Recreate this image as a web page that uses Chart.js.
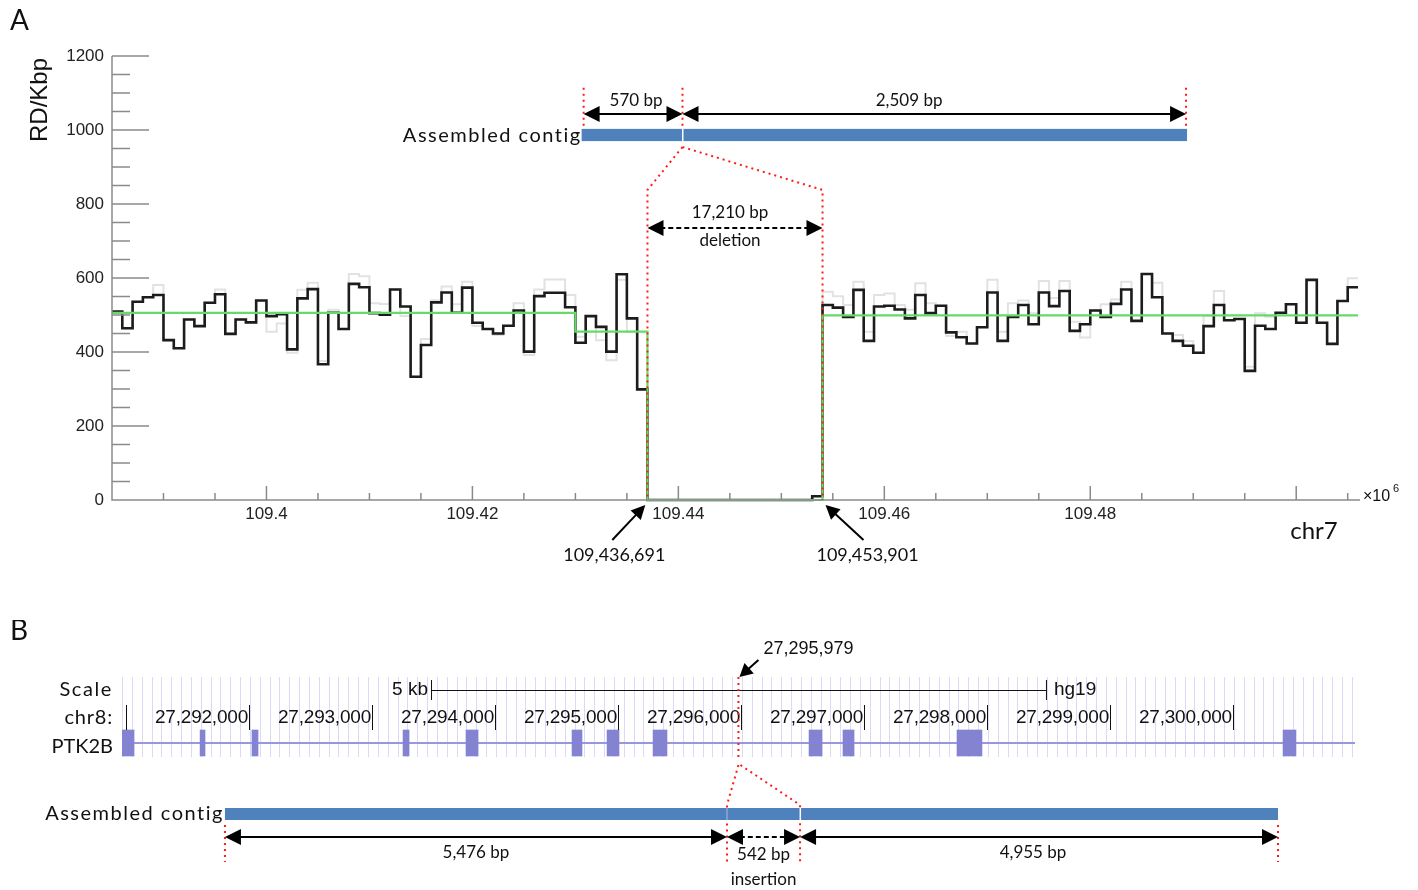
<!DOCTYPE html>
<html>
<head>
<meta charset="utf-8">
<title>Deletion and insertion read-depth figure</title>
<script src="https://cdn.jsdelivr.net/npm/chart.js@4.4.1/dist/chart.umd.min.js"></script>
<style>
  html, body { margin: 0; padding: 0; background: #fff; }
  body { width: 1418px; height: 890px; position: relative; overflow: hidden; }
  #chartA { position: absolute; left: 0; top: 0; }
  #chartB { position: absolute; left: 0; top: 620px; }
</style>
</head>
<body>
<canvas id="chartA" width="1418" height="620"></canvas>
<canvas id="chartB" width="1418" height="270"></canvas>
<script>
/* ---------- Panel A data: read depth in 1 kbp bins, chr7 ---------- */
const binStartMb = 109.385;
const binWidthMb = 0.001;
const rdBlack = [
  509, 464, 536, 548, 554, 432, 410, 488, 470, 533, 556, 449, 488, 480, 539, 497, 502, 407, 545, 570, 367, 506, 462, 584, 575, 505,
  501, 569, 523, 333, 419, 534, 561, 506, 574, 479, 462, 450, 471, 512, 401, 551, 560, 560, 521, 425, 497, 468, 401, 610, 491, 299,
  0, 0, 0, 0, 0, 0, 0, 0, 0, 0, 0, 0, 0, 0, 0, 0, 10,
  527, 520, 495, 568, 430, 523, 525, 515, 491, 554, 505, 525, 453, 440, 423, 467, 561, 430, 495, 527, 475, 561, 524, 565, 457,
  475, 512, 495, 530, 569, 484, 611, 548, 450, 430, 417, 398, 470, 527, 486, 489, 349, 471, 462, 506, 529, 479, 595, 479, 422, 538, 575
];
const rdGrey = [
  509, 464, 536, 548, 581, 432, 410, 488, 470, 533, 569, 449, 488, 480, 539, 455, 477, 398, 568, 587, 376, 514, 462, 611, 605, 532,
  530, 569, 497, 333, 435, 540, 577, 529, 590, 470, 462, 446, 471, 532, 392, 569, 596, 596, 554, 441, 497, 432, 378, 595, 455, 299,
  0, 0, 0, 0, 0, 0, 0, 0, 0, 0, 0, 0, 0, 0, 0, 0, 10,
  563, 551, 527, 590, 455, 554, 558, 527, 514, 586, 532, 525, 443, 455, 423, 467, 595, 455, 532, 539, 505, 592, 546, 592, 482,
  439, 512, 529, 542, 590, 484, 611, 587, 450, 446, 430, 398, 497, 565, 486, 489, 360, 505, 495, 506, 529, 479, 595, 479, 422, 538, 599
];
const segBreaksMb = [109.385, 109.430, 109.437, 109.454, 109.506];
const segLevels = [506, 455, 0, 499];
const xTickValues = [109.40, 109.42, 109.44, 109.46, 109.48];
const xTickLabels = ['109.4', '109.42', '109.44', '109.46', '109.48'];
const yTickValues = [0, 200, 400, 600, 800, 1000, 1200];
const breakpointsMb = [109.436691, 109.453901];
const breakpointLabels = ['109,436,691', '109,453,901'];
const contigAnchorsA = [109.4308, 109.4404, 109.4893];
const contigLabelsA = ['570 bp', '2,509 bp'];

/* ---------- Panel B data: UCSC view of chr8 around PTK2B ---------- */
const viewStart = 27290967;
const viewEnd = 27300992;
const rulerTicks = [27291000, 27292000, 27293000, 27294000, 27295000, 27296000, 27297000, 27298000, 27299000, 27300000];
const rulerLabels = ['', '27,292,000', '27,293,000', '27,294,000', '27,295,000', '27,296,000', '27,297,000', '27,298,000', '27,299,000', '27,300,000'];
const exons = [
  [27290967, 27291065], [27291602, 27291642], [27292024, 27292073], [27293252, 27293301],
  [27293764, 27293862], [27294626, 27294707], [27294911, 27295008], [27295285, 27295398],
  [27296553, 27296659], [27296829, 27296919], [27297756, 27297959], [27300407, 27300512]
];
const insertionPos = 27295979;
const insertionLabel = '27,295,979';
const contigAnchorsB = [27291804, 27295886, 27296480, 27300366];
const contigLabelsB = ['5,476 bp', '542 bp', '4,955 bp'];

const FONT_SANS = '"Liberation Sans", Arial, sans-serif';
const FONT_CAL = 'Lato, "Open Sans", sans-serif';
const RED = '#ff1a1a';
const CONTIG_BLUE = '#4f81bd';

/* ---------- drawing helpers ---------- */
function head(ctx, x, y, ang, len, half) {
  const c = Math.cos(ang), s = Math.sin(ang);
  ctx.beginPath();
  ctx.moveTo(x, y);
  ctx.lineTo(x - len * c + half * s, y - len * s - half * c);
  ctx.lineTo(x - len * c - half * s, y - len * s + half * c);
  ctx.closePath();
  ctx.fill();
}

function arrow(ctx, x1, y1, x2, y2, o = {}) {
  const ang = Math.atan2(y2 - y1, x2 - x1);
  const len = o.len || 14, half = o.half || 7;
  const c = Math.cos(ang), s = Math.sin(ang);
  ctx.save();
  ctx.strokeStyle = '#000';
  ctx.fillStyle = '#000';
  ctx.lineWidth = o.width || 2;
  if (o.dashed) ctx.setLineDash([5, 3]);
  const sx = o.both ? x1 + len * 0.8 * c : x1;
  const sy = o.both ? y1 + len * 0.8 * s : y1;
  ctx.beginPath();
  ctx.moveTo(sx, sy);
  ctx.lineTo(x2 - len * 0.8 * c, y2 - len * 0.8 * s);
  ctx.stroke();
  ctx.setLineDash([]);
  head(ctx, x2, y2, ang, len, half);
  if (o.both) head(ctx, x1, y1, ang + Math.PI, len, half);
  ctx.restore();
}

function dotted(ctx, pts) {
  ctx.save();
  ctx.strokeStyle = RED;
  ctx.lineWidth = 2;
  ctx.setLineDash([2, 4]);
  ctx.beginPath();
  ctx.moveTo(pts[0][0], pts[0][1]);
  for (let i = 1; i < pts.length; i++) ctx.lineTo(pts[i][0], pts[i][1]);
  ctx.stroke();
  ctx.restore();
}

function text(ctx, str, x, y, font, align = 'center', spacing = '0px', base = 'middle') {
  ctx.save();
  ctx.font = font;
  ctx.fillStyle = '#111';
  ctx.textAlign = align;
  ctx.textBaseline = base;
  ctx.letterSpacing = spacing;
  ctx.fillText(str, x, y);
  ctx.restore();
}

/* ---------- Panel A ---------- */
const histPoints = vals => vals
  .map((v, i) => ({ x: binStartMb + i * binWidthMb, y: v }))
  .concat([{ x: binStartMb + vals.length * binWidthMb, y: vals[vals.length - 1] }]);
const segPoints = segBreaksMb.map((b, i) => ({ x: b, y: segLevels[Math.min(i, segLevels.length - 1)] }));

const annotA = {
  id: 'annotA',
  afterDatasetsDraw(chart) {
    const ctx = chart.ctx;
    const xs = chart.scales.x, ys = chart.scales.y;
    const px = v => xs.getPixelForValue(v), py = v => ys.getPixelForValue(v);
    const area = chart.chartArea;

    // axes and ROOT-style inner ticks
    ctx.save();
    ctx.strokeStyle = '#8a8a8a';
    ctx.lineWidth = 1.5;
    ctx.beginPath();
    ctx.moveTo(area.left, area.top);
    ctx.lineTo(area.left, area.bottom);
    ctx.lineTo(area.right + 2, area.bottom);
    for (let v = 0; v <= 1200; v += 50) {
      const l = v % 200 === 0 ? 37 : 18;
      ctx.moveTo(area.left, py(v));
      ctx.lineTo(area.left + l, py(v));
    }
    for (let k = 1; k <= 24; k++) {
      const v = 109.385 + k * 0.005;
      const l = Math.abs(v * 50 - Math.round(v * 50)) < 1e-6 ? 14 : 7;
      ctx.moveTo(px(v), area.bottom);
      ctx.lineTo(px(v), area.bottom - l);
    }
    ctx.stroke();
    ctx.restore();

    // axis titles
    text(ctx, 'A', 10, 30, '28px ' + FONT_CAL, 'left', '0px', 'alphabetic');
    ctx.save();
    ctx.translate(40, 100);
    ctx.rotate(-Math.PI / 2);
    text(ctx, 'RD/Kbp', 0, 0, '24px ' + FONT_SANS);
    ctx.restore();
    text(ctx, '×10', 1363, 501, '16px ' + FONT_SANS, 'left', '0px', 'alphabetic');
    text(ctx, '6', 1393, 492, '11px ' + FONT_SANS, 'left', '0px', 'alphabetic');
    text(ctx, 'chr7', 1314, 531, '24px ' + FONT_CAL);

    // assembled contig schematic
    const [c0, c1, c2] = contigAnchorsA.map(px);
    dotted(ctx, [[c0, py(1114)], [c0, py(995)]]);
    dotted(ctx, [[c1, py(1114)], [c1, py(995)]]);
    dotted(ctx, [[c2, py(1114)], [c2, py(995)]]);
    arrow(ctx, c0, py(1043), c1, py(1043), { both: true, len: 16, half: 8 });
    arrow(ctx, c1, py(1043), c2, py(1043), { both: true, len: 16, half: 8 });
    text(ctx, contigLabelsA[0], c0 + 0.53 * (c1 - c0), py(1081), '17px ' + FONT_CAL);
    text(ctx, contigLabelsA[1], c1 + 0.45 * (c2 - c1), py(1081), '17px ' + FONT_CAL);
    ctx.fillStyle = CONTIG_BLUE;
    ctx.fillRect(c0 - 2, py(1003), c2 - c0 + 3, py(970) - py(1003));
    ctx.fillStyle = '#fff';
    ctx.fillRect(c1 - 0.5, py(1003), 1.5, py(970) - py(1003));
    text(ctx, 'Assembled contig', c0 - 2, py(986), '20px ' + FONT_CAL, 'right', '1.5px');

    // deletion
    const d0 = px(segBreaksMb[2]), d1 = px(segBreaksMb[3]);
    dotted(ctx, [[c1, py(954)], [d0, py(838)], [d0, py(0)]]);
    dotted(ctx, [[c1, py(954)], [d1, py(838)], [d1, py(0)]]);
    arrow(ctx, d0, py(735), d1, py(735), { both: true, dashed: true, len: 16, half: 8 });
    text(ctx, '17,210 bp', (d0 + d1) / 2 - 5, py(776), '17px ' + FONT_CAL);
    text(ctx, 'deletion', (d0 + d1) / 2 - 5, py(700), '17px ' + FONT_CAL);

    // breakpoints
    const b0 = px(breakpointsMb[0]), b1 = px(breakpointsMb[1]);
    arrow(ctx, b0 - 32, 540, b0 + 1, 505, { len: 14, half: 7 });
    arrow(ctx, b1 + 42, 540, b1 + 4, 505, { len: 14, half: 7 });
    text(ctx, breakpointLabels[0], b0 - 30, 555, '18px ' + FONT_CAL);
    text(ctx, breakpointLabels[1], b1 + 46, 555, '18px ' + FONT_CAL);
  }
};

new Chart(document.getElementById('chartA'), {
  type: 'line',
  data: {
    datasets: [
      { label: 'segmentation', data: segPoints, borderColor: '#68d968', borderWidth: 2.2, stepped: true, pointRadius: 0, clip: 6, order: 0 },
      { label: 'RD', data: histPoints(rdBlack), borderColor: '#1c1c1c', borderWidth: 2.6, stepped: true, pointRadius: 0, clip: 6, order: 1 },
      { label: 'RD unpartitioned', data: histPoints(rdGrey), borderColor: '#e2e2e2', borderWidth: 2, stepped: true, pointRadius: 0, clip: 6, order: 2 }
    ]
  },
  options: {
    responsive: false,
    animation: false,
    layout: { padding: { left: 0, top: 56, right: 60, bottom: 0 } },
    plugins: { legend: { display: false }, tooltip: { enabled: false } },
    scales: {
      x: {
        type: 'linear', min: 109.385, max: 109.506,
        afterBuildTicks: s => { s.ticks = xTickValues.map(v => ({ value: v })); },
        afterFit: s => { s.height = 120; },
        ticks: { callback: (v, i) => xTickLabels[i], font: { family: FONT_SANS, size: 17 }, color: '#222', padding: 4, maxRotation: 0, autoSkip: false },
        grid: { display: false, drawTicks: false },
        border: { display: false }
      },
      y: {
        type: 'linear', min: 0, max: 1200,
        afterBuildTicks: s => { s.ticks = yTickValues.map(v => ({ value: v })); },
        afterFit: s => { s.width = 112; },
        ticks: { callback: v => String(v), font: { family: FONT_SANS, size: 17 }, color: '#222', padding: 8 },
        grid: { display: false, drawTicks: false },
        border: { display: false }
      }
    }
  },
  plugins: [annotA]
});

/* ---------- Panel B (y scale in canvas rows, track band 57..137) ---------- */
const TRACK_TOP = 57, TRACK_BOTTOM = 137, GENE_ROW = 123;
const guideValues = [];
for (let g = viewStart; g <= viewEnd; g += 80) guideValues.push(g);

const annotB = {
  id: 'annotB',
  beforeDatasetsDraw(chart) {
    const ctx = chart.ctx;
    const px = v => chart.scales.x.getPixelForValue(v);
    ctx.save();
    ctx.strokeStyle = '#dadaf6';
    ctx.lineWidth = 1;
    ctx.beginPath();
    guideValues.forEach(g => {
      const x = Math.round(px(g)) + 0.5;
      ctx.moveTo(x, TRACK_TOP);
      ctx.lineTo(x, TRACK_BOTTOM);
    });
    ctx.stroke();
    ctx.restore();
  },
  afterDatasetsDraw(chart) {
    const ctx = chart.ctx;
    const xs = chart.scales.x;
    const px = v => xs.getPixelForValue(v);

    text(ctx, 'B', 10, 20, '28px ' + FONT_CAL, 'left', '0px', 'alphabetic');
    text(ctx, 'Scale', 113, 70, '20px ' + FONT_CAL, 'right', '1.6px');
    text(ctx, 'chr8:', 113, 98, '20px ' + FONT_CAL, 'right', '0.8px');
    text(ctx, 'PTK2B', 113, 127, '20px ' + FONT_CAL, 'right');

    // 5 kb scale bar centred on the view
    const mid = (viewStart + viewEnd) / 2;
    const s0 = px(mid - 2500), s1 = px(mid + 2500);
    ctx.save();
    ctx.strokeStyle = '#111';
    ctx.lineWidth = 1;
    ctx.beginPath();
    ctx.moveTo(s0, 70.5); ctx.lineTo(s1, 70.5);
    ctx.moveTo(s0 + 0.5, 60); ctx.lineTo(s0 + 0.5, 80);
    ctx.moveTo(s1 + 0.5, 60); ctx.lineTo(s1 + 0.5, 80);
    rulerTicks.forEach(t => { ctx.moveTo(Math.round(px(t)) + 0.5, 85); ctx.lineTo(Math.round(px(t)) + 0.5, 110); });
    ctx.stroke();
    ctx.restore();
    text(ctx, '5 kb', s0 - 3, 70, '19px ' + FONT_SANS, 'right');
    text(ctx, 'hg19', s1 + 8, 70, '19px ' + FONT_SANS, 'left');
    rulerTicks.forEach((t, i) => {
      if (rulerLabels[i]) text(ctx, rulerLabels[i], px(t) - 1, 98, '19px ' + FONT_SANS, 'right', '-0.2px');
    });

    // insertion point
    const ip = px(insertionPos);
    dotted(ctx, [[ip, TRACK_TOP], [ip, TRACK_BOTTOM]]);
    arrow(ctx, ip + 20, 40, ip + 1, 57, { len: 13, half: 7 });
    text(ctx, insertionLabel, ip + 70, 29, '18px ' + FONT_SANS);

    // assembled contig with insertion
    const [a0, a1, a2, a3] = contigAnchorsB.map(px);
    dotted(ctx, [[ip, 145], [a1, 185], [a1, 242]]);
    dotted(ctx, [[ip + 2, 145], [a2, 185], [a2, 242]]);
    dotted(ctx, [[a0, 205], [a0, 242]]);
    dotted(ctx, [[a3, 205], [a3, 242]]);
    ctx.fillStyle = CONTIG_BLUE;
    ctx.fillRect(a0, 188, a3 - a0, 12);
    ctx.fillStyle = '#a9bfdc';
    ctx.fillRect(a1 - 0.5, 188, 1, 12);
    ctx.fillStyle = '#fff';
    ctx.fillRect(a2 - 0.5, 188, 1.5, 12);
    text(ctx, 'Assembled contig', a0 - 1, 194, '20px ' + FONT_CAL, 'right', '1.5px');
    arrow(ctx, a0, 217, a1, 217, { both: true, len: 16, half: 8 });
    arrow(ctx, a1, 217, a2, 217, { both: true, dashed: true, len: 16, half: 8 });
    arrow(ctx, a2, 217, a3, 217, { both: true, len: 16, half: 8 });
    text(ctx, contigLabelsB[0], (a0 + a1) / 2, 233, '17px ' + FONT_CAL);
    text(ctx, contigLabelsB[1], (a1 + a2) / 2, 235, '17px ' + FONT_CAL);
    text(ctx, contigLabelsB[2], (a2 + a3) / 2 - 6, 233, '17px ' + FONT_CAL);
    text(ctx, 'insertion', (a1 + a2) / 2, 260, '17px ' + FONT_CAL);
  }
};

new Chart(document.getElementById('chartB'), {
  type: 'bar',
  data: {
    datasets: [
      { label: 'intron', data: [{ x: [viewStart, viewEnd], y: GENE_ROW }], backgroundColor: '#9898e0', barThickness: 1.5, grouped: false, order: 2 },
      { label: 'PTK2B exons', data: exons.map(e => ({ x: e, y: GENE_ROW })), backgroundColor: '#8383d1', barThickness: 26, grouped: false, order: 1 }
    ]
  },
  options: {
    responsive: false,
    animation: false,
    indexAxis: 'y',
    layout: { padding: { left: 122, top: 0, right: 63, bottom: 0 } },
    plugins: { legend: { display: false }, tooltip: { enabled: false } },
    scales: {
      x: { type: 'linear', min: viewStart, max: viewEnd, display: false },
      y: { type: 'linear', min: 0, max: 270, reverse: true, offset: false, display: false }
    }
  },
  plugins: [annotB]
});
</script>
</body>
</html>
